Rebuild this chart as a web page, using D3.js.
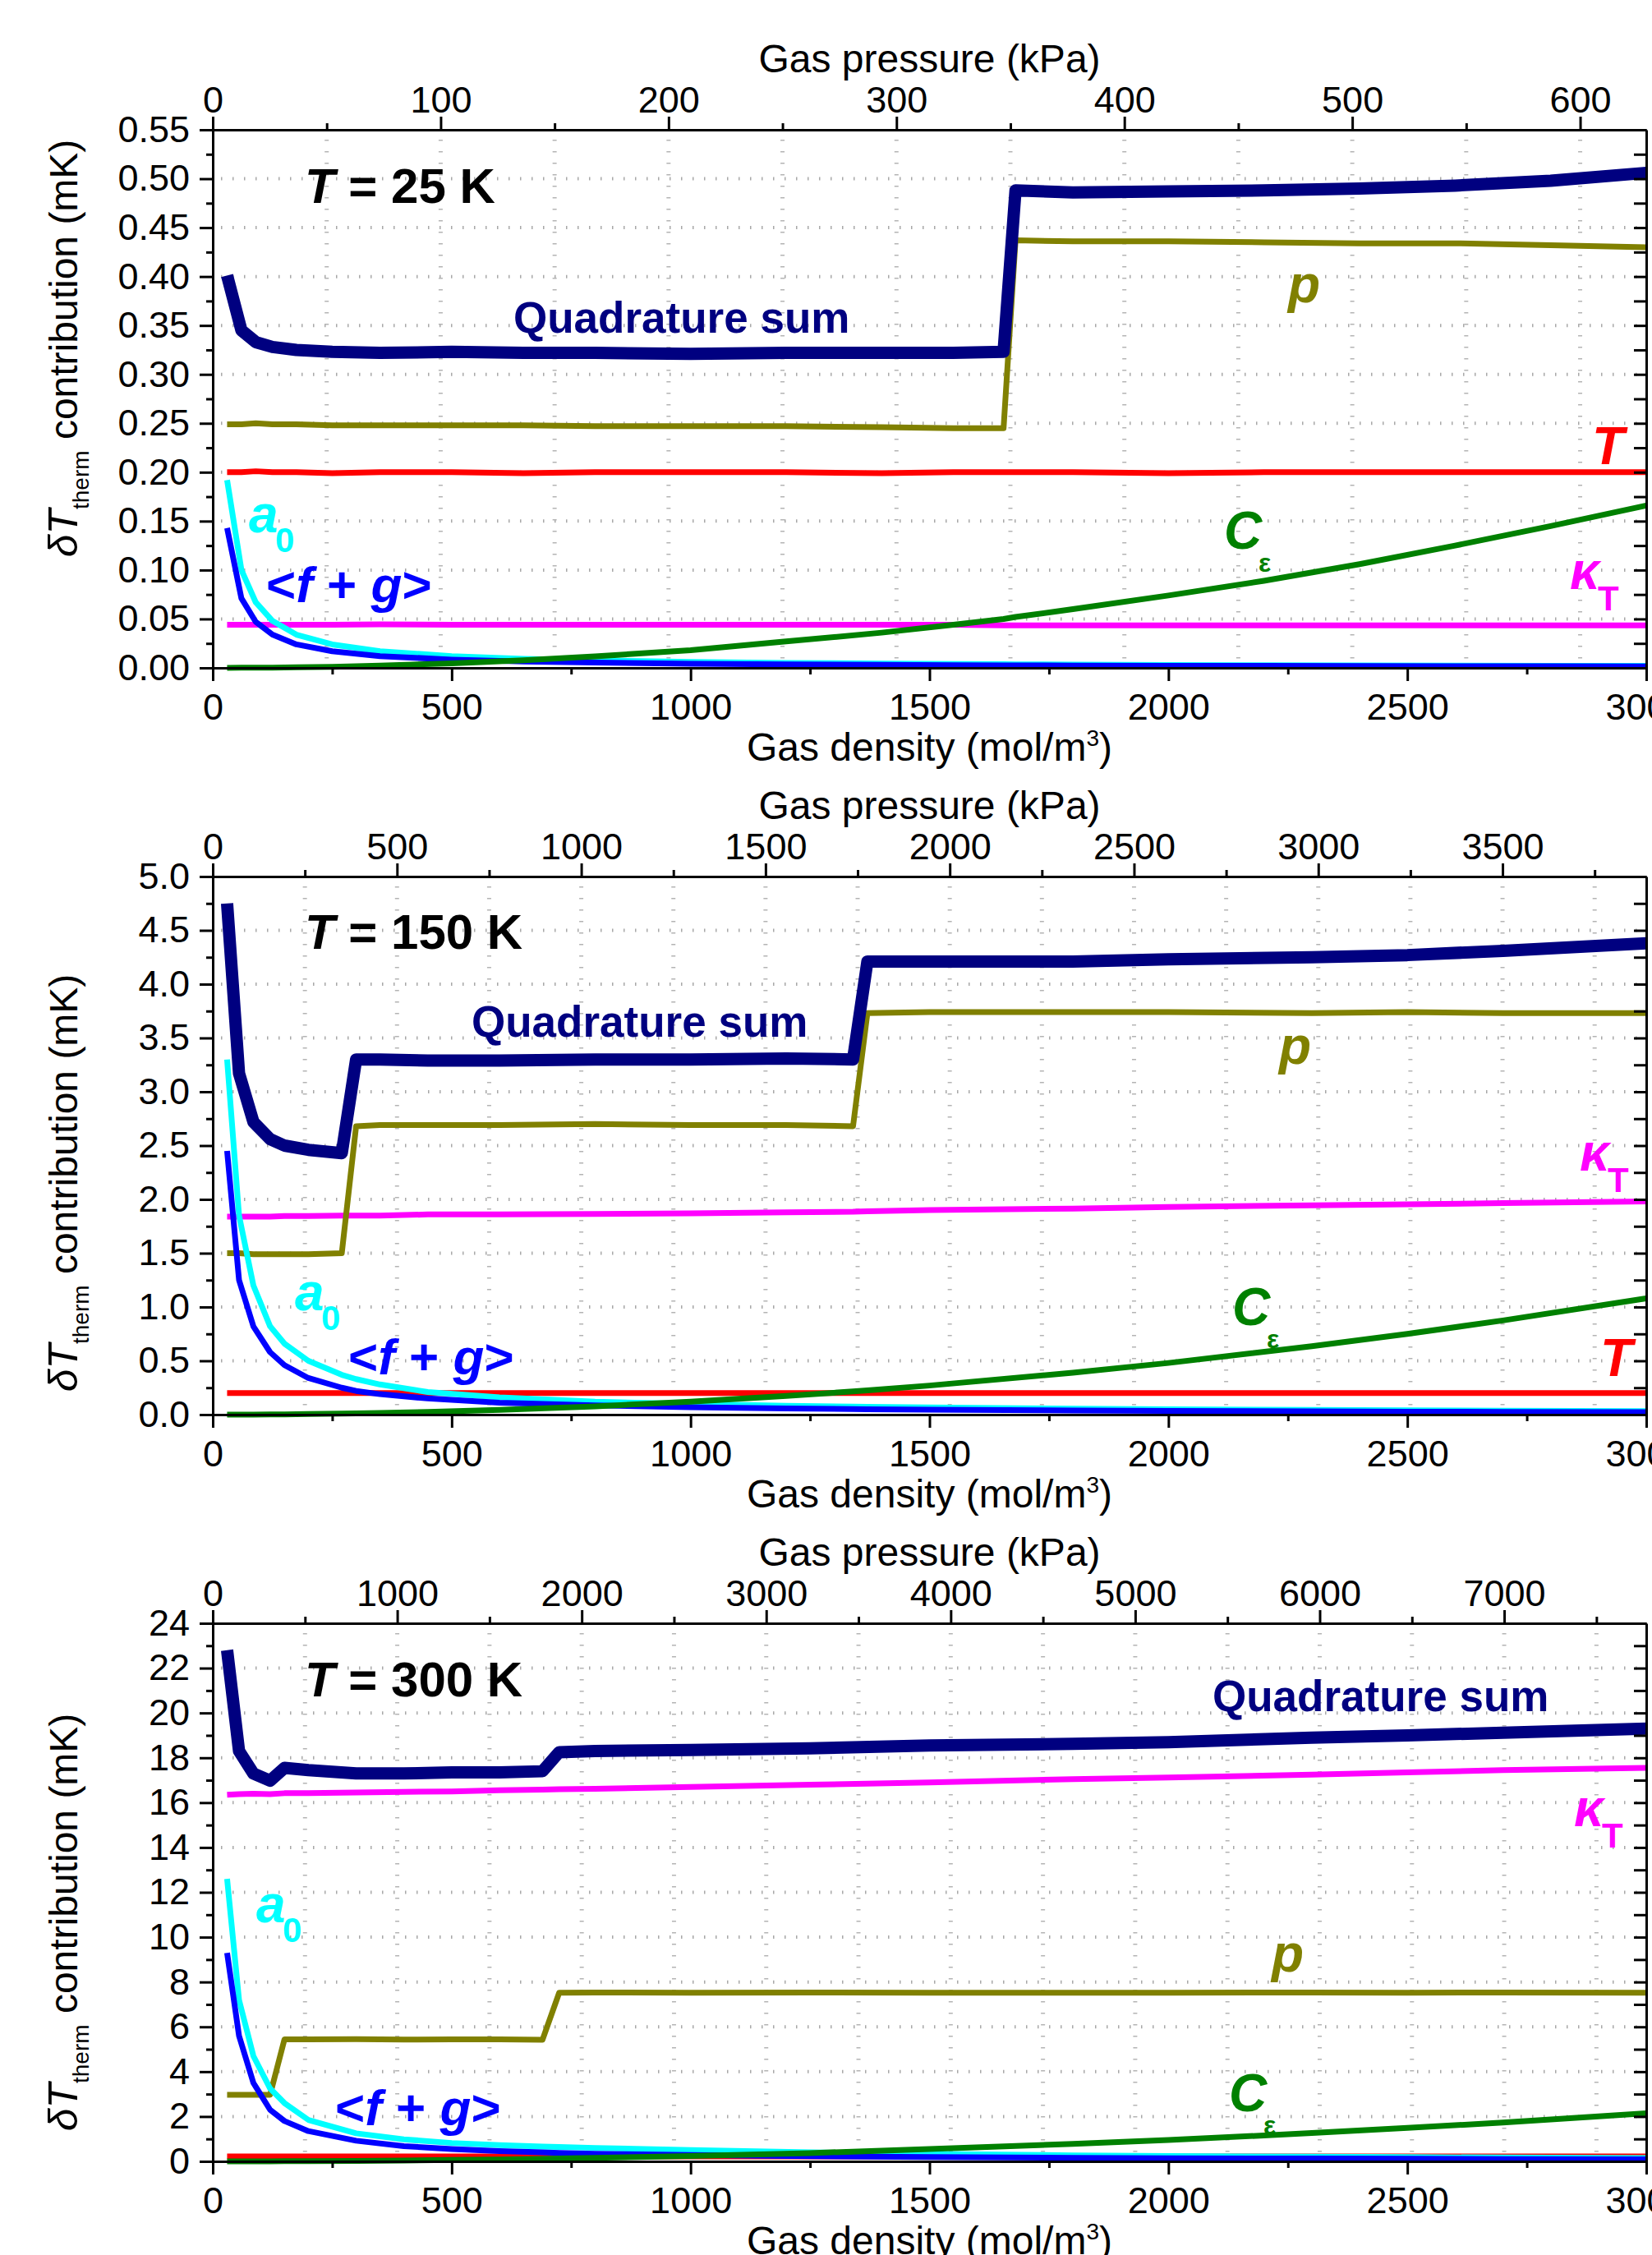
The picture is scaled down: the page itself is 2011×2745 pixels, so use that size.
<!DOCTYPE html>
<html>
<head>
<meta charset="utf-8">
<title>Thermal contributions</title>
<script src="https://cdn.jsdelivr.net/npm/d3@7/dist/d3.min.js"></script>
<style>
  body { margin: 0; background: #fff; }
  svg text { font-family: "Liberation Sans", Arial, Helvetica, sans-serif; }
</style>
</head>
<body>
<div id="chart"></div>
<script>
var w = 2011, h = 2745;
var left = 259, right = 2004, plotH = 655;

// bottom axis (gas density, mol/m3)
var densTicks = [0, 500, 1000, 1500, 2000, 2500, 3000];

// ---- T = 25 K ----
var y25Ticks = [0, 0.05, 0.10, 0.15, 0.20, 0.25, 0.30, 0.35, 0.40, 0.45, 0.50, 0.55];
var p25Ticks = [0, 100, 200, 300, 400, 500, 600];
var dens25 = [30, 60, 90, 125, 175, 250, 350, 500, 650, 800, 1000, 1200, 1400, 1550, 1655, 1680, 1800, 2000, 2200, 2400, 2600, 2800, 3000];
var quad25 = [0.401, 0.345, 0.333, 0.328, 0.325, 0.323, 0.322, 0.323, 0.322, 0.322, 0.321, 0.322, 0.322, 0.322, 0.323, 0.488, 0.486, 0.487, 0.488, 0.490, 0.493, 0.498, 0.506];
var p25 = [0.249, 0.249, 0.250, 0.249, 0.249, 0.248, 0.248, 0.248, 0.248, 0.247, 0.247, 0.247, 0.246, 0.245, 0.245, 0.437, 0.436, 0.436, 0.435, 0.434, 0.434, 0.432, 0.430];
var T25 = [0.200, 0.200, 0.201, 0.200, 0.200, 0.199, 0.200, 0.200, 0.199, 0.200, 0.200, 0.200, 0.199, 0.200, 0.200, 0.200, 0.200, 0.199, 0.200, 0.200, 0.200, 0.200, 0.200];
var kappa25 = [0.044, 0.044, 0.044, 0.044, 0.044, 0.044, 0.0445, 0.044, 0.044, 0.044, 0.044, 0.044, 0.044, 0.044, 0.0435, 0.0435, 0.0435, 0.0435, 0.0435, 0.0435, 0.0435, 0.0435, 0.0435];
var a0_25 = [0.192, 0.100, 0.067, 0.048, 0.034, 0.024, 0.017, 0.012, 0.0093, 0.0076, 0.0061, 0.0051, 0.0044, 0.0040, 0.0037, 0.0036, 0.0034, 0.0030, 0.0028, 0.0025, 0.0023, 0.0022, 0.0020];
var fg25 = [0.143, 0.071, 0.047, 0.034, 0.024, 0.017, 0.012, 0.0085, 0.0066, 0.0054, 0.0043, 0.0036, 0.0031, 0.0028, 0.0026, 0.0026, 0.0024, 0.0022, 0.0020, 0.0018, 0.0017, 0.0016, 0.0015];
var ceps25 = [0.0001, 0.0002, 0.0002, 0.0003, 0.0006, 0.0011, 0.0023, 0.0046, 0.0078, 0.0118, 0.018, 0.027, 0.036, 0.044, 0.050, 0.052, 0.060, 0.074, 0.089, 0.106, 0.125, 0.145, 0.166];

// ---- T = 150 K ----
var y150Ticks = [0, 0.5, 1.0, 1.5, 2.0, 2.5, 3.0, 3.5, 4.0, 4.5, 5.0];
var p150Ticks = [0, 500, 1000, 1500, 2000, 2500, 3000, 3500];
var dens150 = [30, 55, 85, 120, 150, 200, 270, 300, 350, 450, 600, 800, 1000, 1200, 1340, 1370, 1500, 1800, 2000, 2300, 2500, 2700, 3000];
var quad150 = [4.75, 3.17, 2.72, 2.56, 2.50, 2.46, 2.43, 3.30, 3.30, 3.29, 3.29, 3.30, 3.30, 3.31, 3.30, 4.21, 4.21, 4.21, 4.23, 4.25, 4.27, 4.31, 4.38];
var p150 = [1.50, 1.50, 1.49, 1.49, 1.49, 1.49, 1.50, 2.68, 2.69, 2.69, 2.69, 2.70, 2.69, 2.69, 2.68, 3.73, 3.74, 3.74, 3.74, 3.73, 3.74, 3.73, 3.73];
var T150 = [0.20, 0.20, 0.20, 0.20, 0.20, 0.20, 0.20, 0.20, 0.20, 0.20, 0.20, 0.20, 0.20, 0.20, 0.20, 0.20, 0.20, 0.20, 0.20, 0.20, 0.20, 0.20, 0.20];
var kappa150 = [1.84, 1.84, 1.84, 1.84, 1.845, 1.845, 1.85, 1.85, 1.85, 1.86, 1.86, 1.865, 1.87, 1.88, 1.885, 1.89, 1.90, 1.915, 1.93, 1.945, 1.955, 1.965, 1.98];
var a0_150 = [3.30, 1.85, 1.20, 0.82, 0.66, 0.50, 0.37, 0.33, 0.28, 0.21, 0.16, 0.12, 0.10, 0.083, 0.074, 0.072, 0.066, 0.055, 0.050, 0.043, 0.040, 0.037, 0.033];
var fg150 = [2.45, 1.25, 0.82, 0.58, 0.46, 0.34, 0.25, 0.22, 0.19, 0.15, 0.11, 0.085, 0.068, 0.057, 0.051, 0.050, 0.046, 0.038, 0.034, 0.030, 0.027, 0.025, 0.023];
var ceps150 = [0.0001, 0.0004, 0.0009, 0.0017, 0.0027, 0.0048, 0.0087, 0.011, 0.015, 0.024, 0.043, 0.077, 0.12, 0.173, 0.215, 0.225, 0.27, 0.39, 0.48, 0.635, 0.75, 0.875, 1.08];

// ---- T = 300 K ----
var y300Ticks = [0, 2, 4, 6, 8, 10, 12, 14, 16, 18, 20, 22, 24];
var p300Ticks = [0, 1000, 2000, 3000, 4000, 5000, 6000, 7000];
var dens300 = [30, 55, 85, 120, 150, 200, 300, 400, 500, 600, 690, 725, 800, 1000, 1250, 1500, 1800, 2000, 2300, 2500, 2700, 3000];
var quad300 = [22.8, 18.3, 17.3, 16.98, 17.55, 17.45, 17.3, 17.3, 17.35, 17.35, 17.4, 18.25, 18.3, 18.35, 18.42, 18.55, 18.62, 18.7, 18.9, 19.0, 19.12, 19.3];
var p300 = [2.97, 2.97, 2.97, 2.97, 5.44, 5.44, 5.45, 5.43, 5.44, 5.44, 5.42, 7.52, 7.53, 7.52, 7.53, 7.52, 7.52, 7.52, 7.53, 7.52, 7.53, 7.52];
var T300 = [0.22, 0.22, 0.22, 0.22, 0.22, 0.22, 0.22, 0.22, 0.22, 0.22, 0.22, 0.22, 0.22, 0.22, 0.22, 0.22, 0.22, 0.22, 0.22, 0.22, 0.22, 0.22];
var kappa300 = [16.35, 16.38, 16.40, 16.38, 16.42, 16.42, 16.45, 16.48, 16.50, 16.55, 16.58, 16.60, 16.62, 16.70, 16.80, 16.90, 17.05, 17.12, 17.25, 17.35, 17.45, 17.55];
var a0_300 = [12.6, 7.2, 4.7, 3.25, 2.6, 1.85, 1.25, 0.98, 0.82, 0.72, 0.66, 0.64, 0.60, 0.50, 0.40, 0.33, 0.27, 0.24, 0.21, 0.19, 0.17, 0.15];
var fg300 = [9.3, 5.6, 3.5, 2.3, 1.8, 1.35, 0.92, 0.68, 0.55, 0.46, 0.40, 0.38, 0.34, 0.28, 0.23, 0.19, 0.16, 0.14, 0.125, 0.115, 0.105, 0.095];
var ceps300 = [0.0002, 0.0007, 0.0017, 0.0034, 0.005, 0.0095, 0.021, 0.038, 0.06, 0.086, 0.113, 0.125, 0.152, 0.24, 0.37, 0.55, 0.78, 0.95, 1.26, 1.49, 1.73, 2.14];

var colors = { quad: "#000080", p: "#808000", T: "#ff0000", kappa: "#ff00ff", a0: "#00ffff", fg: "#0000ff", ceps: "#008000" };
var drawOrder = ["T", "kappa", "p", "a0", "fg", "ceps", "quad"];

// layout of each panel; label positions are relative to the panel's top spine
var panels = [
  { top: 158, yTicks: y25Ticks, yFmt: ".2f", pTicks: p25Ticks, pMax: 629, yLabelY: 424, temp: "25",
    dens: dens25, series: { quad: quad25, p: p25, T: T25, kappa: kappa25, a0: a0_25, fg: fg25, ceps: ceps25 },
    labels: [["title", 371, 89], ["quad", 625, 247], ["p", 1568, 210], ["T", 1938, 407],
             ["a0", 303, 490], ["fg", 324, 575], ["ceps", 1490, 510], ["kappa", 1911, 559]] },
  { top: 1067, yTicks: y150Ticks, yFmt: ".1f", pTicks: p150Ticks, pMax: 3890, yLabelY: 1440, temp: "150",
    dens: dens150, series: { quad: quad150, p: p150, T: T150, kappa: kappa150, a0: a0_150, fg: fg150, ceps: ceps150 },
    labels: [["title", 371, 88], ["quad", 574, 195], ["p", 1557, 228], ["kappa", 1923, 358],
             ["a0", 359, 528], ["fg", 424, 606], ["ceps", 1500, 546], ["T", 1948, 608]] },
  { top: 1976, yTicks: y300Ticks, yFmt: "d", pTicks: p300Ticks, pMax: 7770, yLabelY: 2340, temp: "300",
    dens: dens300, series: { quad: quad300, p: p300, T: T300, kappa: kappa300, a0: a0_300, fg: fg300, ceps: ceps300 },
    labels: [["title", 371, 89], ["quad", 1476, 107], ["kappa", 1916, 247], ["a0", 312, 364],
             ["p", 1548, 424], ["fg", 408, 611], ["ceps", 1496, 594]] }
];

function midpoints(ticks) {
  return d3.pairs(ticks).map(function(p) { return (p[0] + p[1]) / 2; });
}

function addText(g, x, y, str, color, size, italic, bold) {
  return g.append("text")
    .attr("x", x).attr("y", y)
    .attr("fill", color)
    .style("font-size", size + "px")
    .style("font-weight", bold === false ? "normal" : "bold")
    .style("font-style", italic ? "italic" : "normal")
    .text(str);
}

function drawLabel(g, kind, x, y, temp) {
  if (kind === "title") {
    var t = addText(g, x, y, "", "#000", 60, false);
    t.append("tspan").style("font-style", "italic").text("T");
    t.append("tspan").text(" = " + temp + " K");
  } else if (kind === "quad") {
    addText(g, x, y, "Quadrature sum", colors.quad, 53, false);
  } else if (kind === "p") {
    addText(g, x, y, "p", colors.p, 64, true);
  } else if (kind === "T") {
    addText(g, x, y, "T", colors.T, 64, true);
  } else if (kind === "a0") {
    addText(g, x, y, "a", colors.a0, 64, true);
    addText(g, x + 32, y + 24, "0", colors.a0, 42, false);
  } else if (kind === "fg") {
    var f = addText(g, x, y, "", colors.fg, 62, false);
    f.append("tspan").text("<");
    f.append("tspan").style("font-style", "italic").text("f");
    f.append("tspan").text(" + ");
    f.append("tspan").style("font-style", "italic").text("g");
    f.append("tspan").text(">");
  } else if (kind === "ceps") {
    addText(g, x, y, "C", colors.ceps, 64, true);
    addText(g, x + 42, y + 28, "\u03b5", colors.ceps, 32, false);
  } else if (kind === "kappa") {
    addText(g, x, y, "\u03ba", colors.kappa, 64, true);
    addText(g, x + 34, y + 26, "T", colors.kappa, 42, false);
  }
}

function styleAxis(g, fontSize) {
  g.attr("font-size", null).attr("font-family", null);
  g.select(".domain").attr("stroke", "#000").attr("stroke-width", 3);
  g.selectAll(".tick line").attr("stroke", "#000").attr("stroke-width", 3);
  g.selectAll(".tick text").attr("fill", "#000").style("font-size", fontSize + "px");
}

function drawPanel(svg, cfg) {
  var bottom = cfg.top + plotH;
  var yMax = cfg.yTicks[cfg.yTicks.length - 1];

  var xScale = d3.scaleLinear().domain([0, 3000]).range([left, right]);
  var pScale = d3.scaleLinear().domain([0, cfg.pMax]).range([left, right]);
  var yScale = d3.scaleLinear().domain([0, yMax]).range([bottom, cfg.top]);

  var yMinor = midpoints(cfg.yTicks);
  var pStep = cfg.pTicks[1] - cfg.pTicks[0];
  var pMinor = midpoints(cfg.pTicks);
  var lastHalf = cfg.pTicks[cfg.pTicks.length - 1] + pStep / 2;
  if (lastHalf <= cfg.pMax) pMinor.push(lastHalf);
  var densMinor = midpoints(densTicks);

  var g = svg.append("g");

  // dotted grid: horizontal at major y ticks, vertical at pressure ticks
  g.append("g").selectAll("line")
    .data(cfg.yTicks.filter(function(v) { return v > 0 && v < yMax; }))
    .enter().append("line")
    .attr("x1", left + 10).attr("x2", right)
    .attr("y1", function(d) { return yScale(d); })
    .attr("y2", function(d) { return yScale(d); })
    .attr("stroke", "#a8a8a8").attr("stroke-width", 4)
    .attr("stroke-dasharray", "1.5,12.5");

  g.append("g").selectAll("line")
    .data(cfg.pTicks.slice(1).concat(pMinor))
    .enter().append("line")
    .attr("x1", function(d) { return pScale(d); })
    .attr("x2", function(d) { return pScale(d); })
    .attr("y1", cfg.top + 12).attr("y2", bottom)
    .attr("stroke", "#b4b4b4").attr("stroke-width", 5)
    .attr("stroke-dasharray", "1.5,12.5");

  // data lines
  var line = d3.line()
    .x(function(d) { return xScale(d[0]); })
    .y(function(d) { return yScale(d[1]); });

  drawOrder.forEach(function(key) {
    var pts = cfg.dens.map(function(d, i) { return [d, cfg.series[key][i]]; });
    g.append("path")
      .datum(pts)
      .attr("fill", "none")
      .attr("stroke", colors[key])
      .attr("stroke-width", key === "quad" ? 15 : 7)
      .attr("stroke-linejoin", "round")
      .attr("d", line);
  });

  var intFmt = d3.format("d");

  // axes
  var bottomMinor = g.append("g").attr("transform", "translate(0," + bottom + ")")
    .call(d3.axisBottom(xScale).tickValues(densMinor).tickSize(8).tickSizeOuter(0).tickFormat(""));
  styleAxis(bottomMinor, 45);
  var bottomAxis = g.append("g").attr("transform", "translate(0," + bottom + ")")
    .call(d3.axisBottom(xScale).tickValues(densTicks).tickSize(16).tickSizeOuter(0).tickPadding(15)
      .tickFormat(intFmt));
  styleAxis(bottomAxis, 45);

  var topMinor = g.append("g").attr("transform", "translate(0," + cfg.top + ")")
    .call(d3.axisTop(pScale).tickValues(pMinor).tickSize(8).tickSizeOuter(0).tickFormat(""));
  styleAxis(topMinor, 45);
  var topAxis = g.append("g").attr("transform", "translate(0," + cfg.top + ")")
    .call(d3.axisTop(pScale).tickValues(cfg.pTicks).tickSize(16).tickSizeOuter(0).tickPadding(5)
      .tickFormat(intFmt));
  styleAxis(topAxis, 45);

  var leftMinor = g.append("g").attr("transform", "translate(" + left + ",0)")
    .call(d3.axisLeft(yScale).tickValues(yMinor).tickSize(8).tickSizeOuter(0).tickFormat(""));
  styleAxis(leftMinor, 45);
  var leftAxis = g.append("g").attr("transform", "translate(" + left + ",0)")
    .call(d3.axisLeft(yScale).tickValues(cfg.yTicks).tickSize(16).tickSizeOuter(0).tickPadding(12)
      .tickFormat(d3.format(cfg.yFmt)));
  styleAxis(leftAxis, 45);

  var rightAxis = g.append("g").attr("transform", "translate(" + right + ",0)")
    .call(d3.axisRight(yScale).tickValues(cfg.yTicks.concat(yMinor)).tickSize(-15).tickSizeOuter(0).tickFormat(""));
  styleAxis(rightAxis, 45);

  // axis titles
  var mid = (left + right) / 2;
  addText(g, mid, cfg.top - 70, "Gas pressure (kPa)", "#000", 48, false, false).attr("text-anchor", "middle");
  var bt = addText(g, mid, bottom + 113, "Gas density (mol/m", "#000", 48, false, false).attr("text-anchor", "middle");
  bt.append("tspan").attr("dy", -18).style("font-size", "28px").text("3");
  bt.append("tspan").attr("dy", 18).text(")");

  var yl = addText(g, 0, 0, "", "#000", 48, false, false)
    .attr("text-anchor", "middle")
    .attr("transform", "translate(94," + cfg.yLabelY + ") rotate(-90)");
  yl.append("tspan").style("font-style", "italic").style("font-size", "50px").text("\u03b4T");
  yl.append("tspan").attr("dy", 14).style("font-size", "28px").text("therm");
  yl.append("tspan").attr("dy", -14).text(" contribution (mK)");

  // curve labels
  cfg.labels.forEach(function(l) {
    drawLabel(g, l[0], l[1], cfg.top + l[2], cfg.temp);
  });
}

function init() {
  var svg = d3.select("#chart")
    .append("svg")
    .attr("width", w)
    .attr("height", h)
    .attr("font-family", '"Liberation Sans", Arial, Helvetica, sans-serif');

  svg.append("rect").attr("width", w).attr("height", h).attr("fill", "#fff");

  panels.forEach(function(cfg) {
    drawPanel(svg, cfg);
  });
}

window.onload = init;
</script>
</body>
</html>
